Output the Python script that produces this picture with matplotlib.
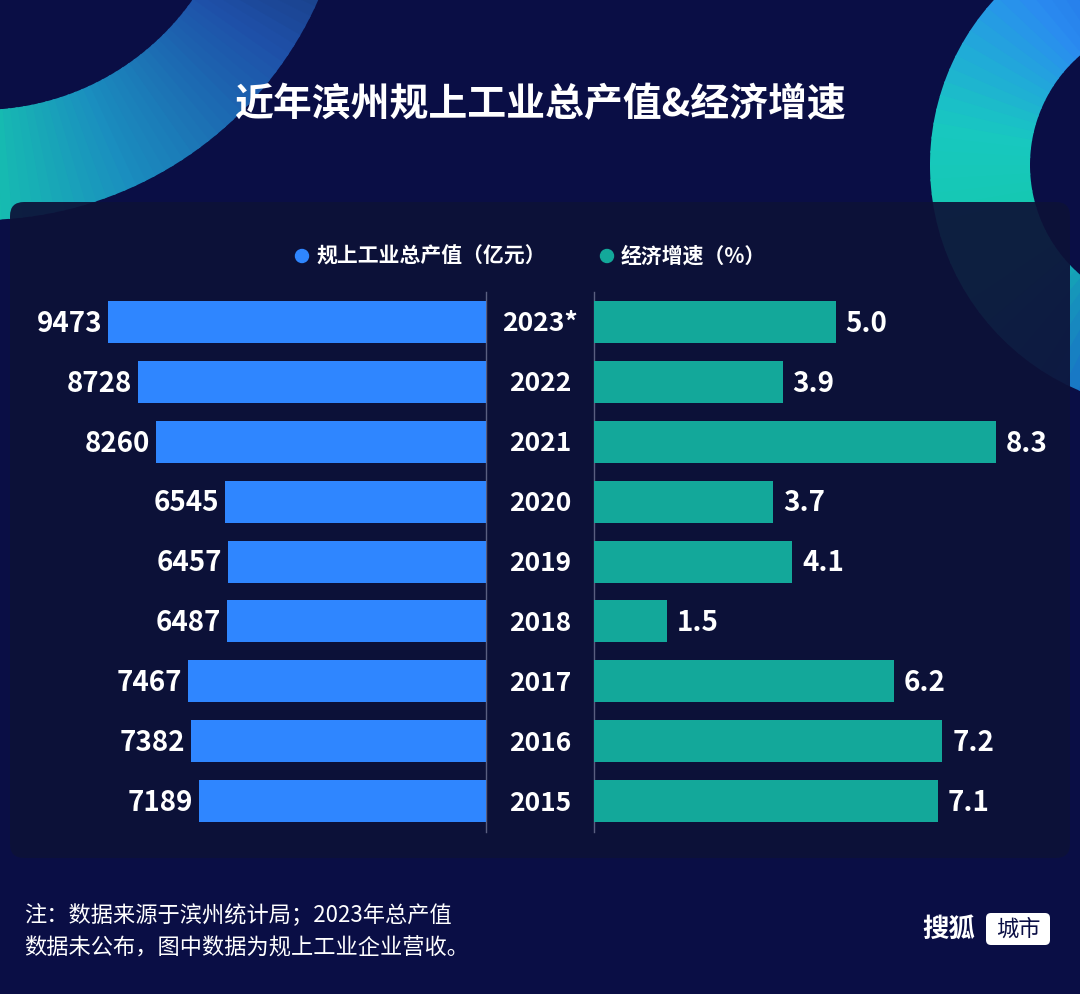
import numpy as np
import matplotlib.pyplot as plt
from matplotlib.patches import Wedge, FancyBboxPatch, Circle
from matplotlib.colors import LinearSegmentedColormap

plt.rcParams['font.family'] = ['Noto Sans CJK SC', 'DejaVu Sans']

years = ['2023*', '2022', '2021', '2020', '2019', '2018', '2017', '2016', '2015']
output_value = [9473, 8728, 8260, 6545, 6457, 6487, 7467, 7382, 7189]
growth_rate = [5.0, 3.9, 8.3, 3.7, 4.1, 1.5, 6.2, 7.2, 7.1]

W, H = 1080, 994
BG = '#0a0e45'
BLUE = '#2f86ff'
TEAL = '#13a89a'

fig = plt.figure(figsize=(W / 100, H / 100), dpi=100, facecolor=BG)

# background decorations in pixel coordinates
deco = fig.add_axes([0, 0, 1, 1])
deco.set_xlim(0, W)
deco.set_ylim(H, 0)
deco.axis('off')

cm_left = LinearSegmentedColormap.from_list('l', ['#12264f', '#1e4fa8', '#1a8fbf', '#14d6a8'])
steps = 60
for i in range(steps):
    a0 = 0 + i * 100 / steps
    deco.add_patch(Wedge((-20, -150), 370, a0, a0 + 100 / steps + 0.5, width=110,
                         color=cm_left(i / (steps - 1)), lw=0))

cm_right = LinearSegmentedColormap.from_list('r', ['#1d5fe0', '#2a8cf0', '#18c8c0', '#13c8a8', '#1870c8', '#1a3aa0'])
for i in range(steps):
    a0 = 270 - i * 200 / steps
    deco.add_patch(Wedge((1175, 165), 245, a0 - 200 / steps - 0.5, a0, width=100,
                         color=cm_right(i / (steps - 1)), lw=0))

deco.add_patch(FancyBboxPatch((10, 202), 1060, 656, boxstyle='round,pad=0,rounding_size=14',
                              facecolor='#0d1238', edgecolor='none', alpha=0.93))
deco.text(540, 105, '近年滨州规上工业总产值&经济增速', color='white', fontsize=28,
          fontweight='bold', ha='center', va='center')
deco.add_patch(Circle((302, 256), 6.5, color=BLUE))
deco.text(316, 256, '规上工业总产值（亿元）', color='white', fontsize=15,
          fontweight='bold', ha='left', va='center')
deco.add_patch(Circle((607, 256), 6.5, color=TEAL))
deco.text(621, 256, '经济增速（%）', color='white', fontsize=15,
          fontweight='bold', ha='left', va='center')
deco.plot([486, 486], [292, 832], color='#5a5f80', lw=1)
deco.plot([594, 594], [292, 832], color='#5a5f80', lw=1)
deco.text(24, 916, '注：数据来源于滨州统计局；2023年总产值', color='white', fontsize=16, va='center')
deco.text(24, 948, '数据未公布，图中数据为规上工业企业营收。', color='white', fontsize=16, va='center')
deco.text(922, 929, '搜狐', color='white', fontsize=19, fontweight='bold', va='center')
deco.add_patch(FancyBboxPatch((986, 913), 64, 32, boxstyle='round,pad=0,rounding_size=5',
                              facecolor='white', edgecolor='none'))
deco.text(1018, 929, '城市', color='#0a0e45', fontsize=16, ha='center', va='center')

top_px, row = 292, 59.9
n = len(years)
bottom_px = top_px + row * n
y = np.arange(n)

def fax(x0, x1):
    return fig.add_axes([x0 / W, 1 - bottom_px / H, (x1 - x0) / W, (bottom_px - top_px) / H])

axl = fax(60, 486)
axl.barh(y, output_value, height=0.7, color=BLUE)
axl.set_xlim(10677, 0)
axl.set_ylim(n - 0.5, -0.5)
for yi, v in zip(y, output_value):
    axl.text(v + 150, yi + 0.03, str(v), color='white', fontsize=20, fontweight='bold',
             ha='right', va='center')

axr = fax(594, 1070)
axr.barh(y, growth_rate, height=0.7, color=TEAL)
axr.set_xlim(0, 476 / 48.4)
axr.set_ylim(n - 0.5, -0.5)
for yi, v in zip(y, growth_rate):
    axr.text(v + 0.2, yi + 0.03, f'{v:.1f}', color='white', fontsize=20, fontweight='bold',
             ha='left', va='center')
for ax in (axl, axr):
    ax.axis('off')
    ax.patch.set_alpha(0)

# year labels in the middle column
for yi, t in zip(y, years):
    deco.text(540, top_px + row * (yi + 0.5) + 2, t, color='white', fontsize=19, fontweight='bold',
              ha='center', va='center')

fig.savefig('out.png', dpi=100, facecolor=BG)
